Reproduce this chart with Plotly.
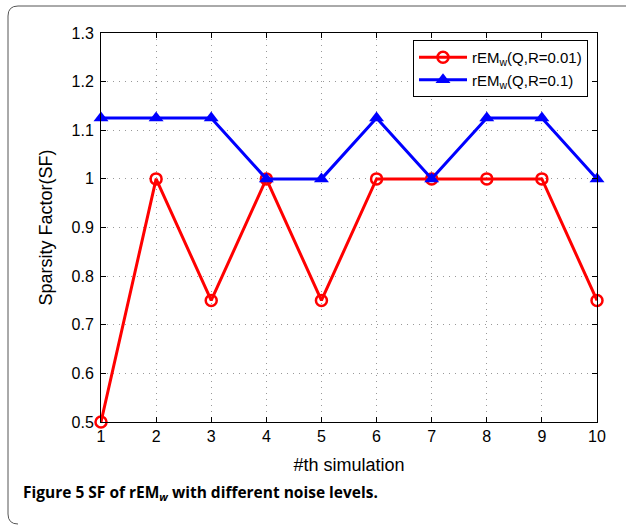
import plotly.graph_objects as go

sim = [1, 2, 3, 4, 5, 6, 7, 8, 9, 10]
sf_r001 = [0.5, 1.0, 0.75, 1.0, 0.75, 1.0, 1.0, 1.0, 1.0, 0.75]
sf_r01 = [1.125, 1.125, 1.125, 1.0, 1.0, 1.125, 1.0, 1.125, 1.125, 1.0]
ytick_vals = [0.5, 0.6, 0.7, 0.8, 0.9, 1.0, 1.1, 1.2, 1.3]
ytick_text = ["0.5", "0.6", "0.7", "0.8", "0.9", "1", "1.1", "1.2", "1.3"]

W, H = 626, 527
L, R, T, B = 101, 597, 33, 422

fig = go.Figure()
fig.add_trace(go.Scatter(
    x=sim, y=sf_r001, mode="lines+markers",
    name="rEM<sub>w</sub>(Q,R=0.01)",
    line=dict(color="#ff0000", width=3),
    marker=dict(symbol="circle-open", size=11, color="#ff0000", line=dict(width=2.5)),
    cliponaxis=False,
))
fig.add_trace(go.Scatter(
    x=sim, y=sf_r01, mode="lines+markers",
    name="rEM<sub>w</sub>(Q,R=0.1)",
    line=dict(color="#0000ff", width=3),
    marker=dict(symbol="triangle-up", size=13, color="#0000ff"),
    cliponaxis=False,
))

def px(x):
    return (x - L) / (R - L)

def py(y):
    return (B - y) / (B - T)

# outer rounded frame (top and left edges)
x0, y0, y1 = px(8), py(6), py(524)
x1 = px(626)
rx, ry = 10 / (R - L), 10 / (B - T)
path = (f"M {x1},{y0} L {x0+rx},{y0} Q {x0},{y0} {x0},{y0-ry} "
        f"L {x0},{y1+ry} Q {x0},{y1} {x0+rx},{y1}")
fig.add_shape(type="path", path=path, xref="paper", yref="paper",
              line=dict(color="#555555", width=1))

fig.add_annotation(
    text="<b>Figure 5</b> <b>SF of rEM<sub><i>w</i></sub> with different noise levels.</b>",
    x=px(21), y=py(492), xref="paper", yref="paper", xanchor="left", yanchor="middle",
    showarrow=False, font=dict(family="Open Sans", size=15.5, color="#000000"),
)

axis_common = dict(
    showline=True, linecolor="black", linewidth=1, mirror="ticks",
    ticks="inside", ticklen=5, tickcolor="black",
    showgrid=True, gridcolor="#999999", gridwidth=1, griddash="1px,5px",
    zeroline=False,
    tickfont=dict(family="Liberation Sans", size=16, color="black"),
)

fig.update_xaxes(range=[1, 10], tickvals=sim,
                 title=dict(text="#th simulation", standoff=14,
                            font=dict(family="Liberation Sans", size=18, color="black")),
                 **axis_common)
fig.update_yaxes(range=[0.5, 1.3], tickvals=ytick_vals, ticktext=ytick_text,
                 ticklabelstandoff=3,
                 title=dict(text="Sparsity Factor(SF)", standoff=14,
                            font=dict(family="Liberation Sans", size=18, color="black")),
                 **axis_common)

fig.update_layout(
    width=W, height=H,
    margin=dict(l=L, r=W - R, t=T, b=H - B),
    paper_bgcolor="white", plot_bgcolor="white",
    showlegend=True,
    legend=dict(x=px(413), y=py(40), xanchor="left", yanchor="top",
                bgcolor="white", bordercolor="black", borderwidth=1,
                font=dict(family="Liberation Sans", size=15, color="black"),
                itemwidth=48, tracegroupgap=4),
)

fig.write_html("out.html")
